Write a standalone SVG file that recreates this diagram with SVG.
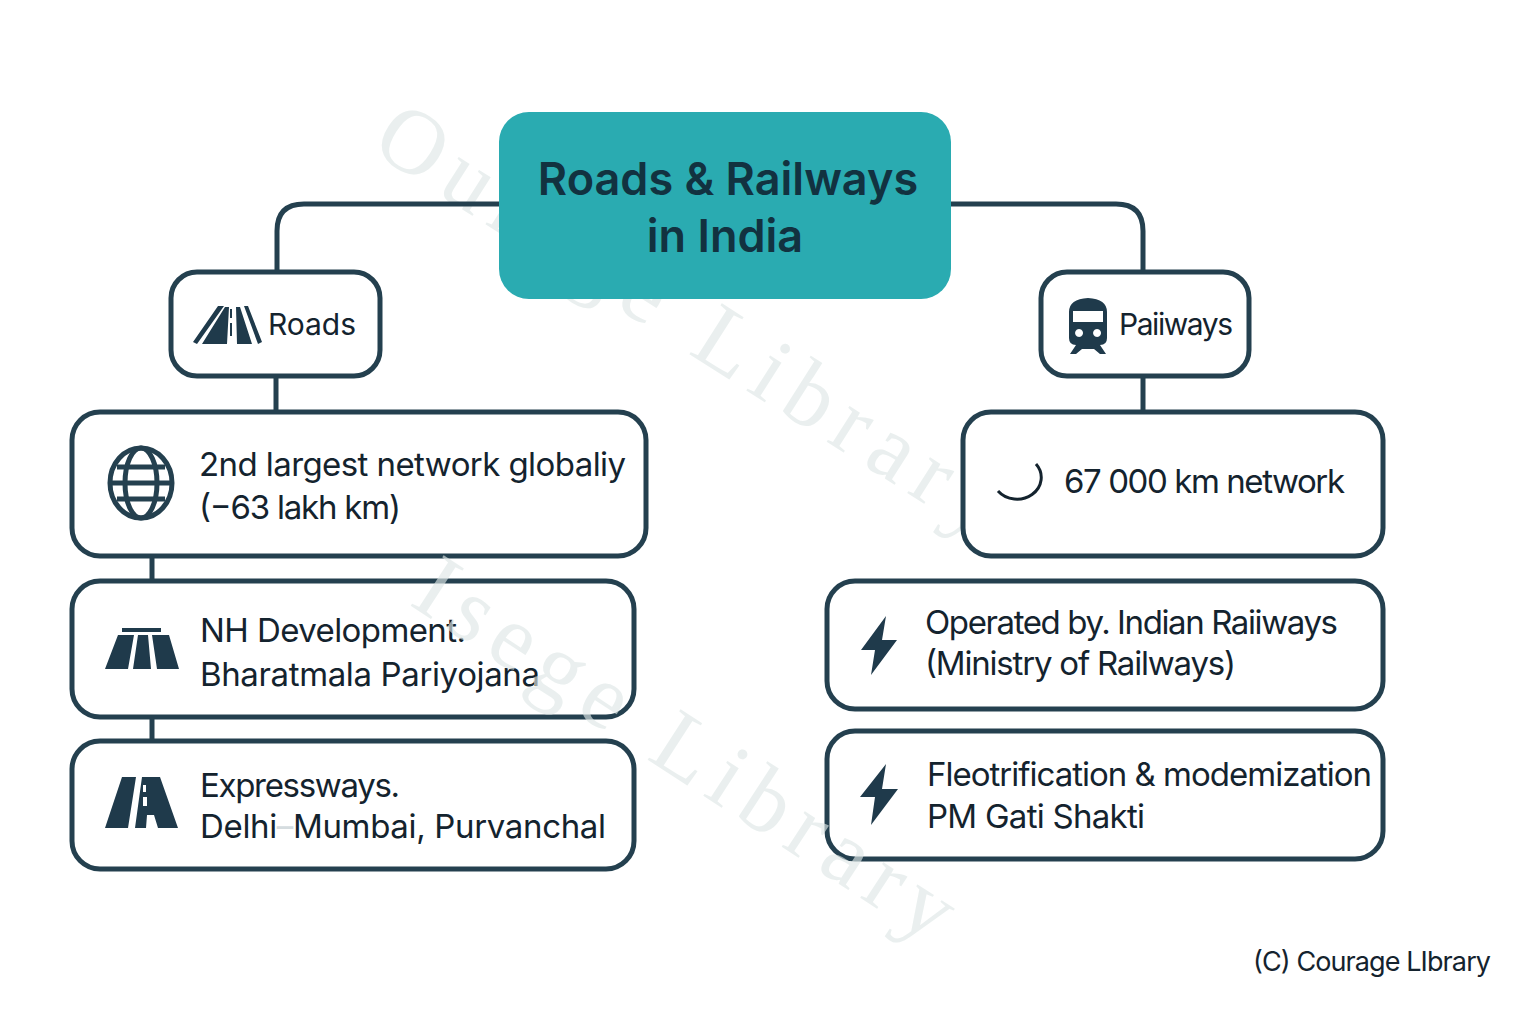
<svg xmlns="http://www.w3.org/2000/svg" width="1536" height="1024" viewBox="0 0 1536 1024">
<style>
.box{fill:#fff;stroke:#24404f;stroke-width:5}
.con{fill:none;stroke:#24404f;stroke-width:5}
.ic{fill:#1f3a4b}
.t{font-family:Inter,"Liberation Sans",sans-serif;font-size:33px;fill:#14232e}
.s{font-size:30px}
.title{font-family:Inter,"Liberation Sans",sans-serif;font-size:45px;font-weight:600;fill:#123240;text-anchor:middle}
.wm{font-family:"Liberation Serif",serif;font-size:92px;fill:#dfe8e7;opacity:.65}
</style>
<rect width="1536" height="1024" fill="#fff"/>
<text class="wm" transform="translate(369,150) rotate(32.5)" textLength="725">Ourage Library</text>
<g id="connectors">
<path class="con" d="M500 204H304Q277 204 277 231V272"/>
<path class="con" d="M950 204H1116Q1143 204 1143 231V272"/>
<path class="con" d="M276 376V412M1143 376V412M152 556V581M152 717V741"/>
</g>
<g id="center"><rect x="499" y="112" width="452" height="187" rx="30" fill="#2aabb1"/>
<text class="title" x="728" y="195">Roads &amp; Railways</text><text class="title" x="725" y="252">in India</text></g>
<g id="roads"><rect class="box" x="171" y="272" width="209" height="104" rx="26"/>
<path class="ic" d="M193 342L218 306H224L197 344ZM202 344L225 307H229L227 344ZM236 307H240L252 344H237ZM244 306H248L262 342L258 344Z"/>
<path d="M231 309V318M231 323V336" stroke="#1f3a4b" stroke-width="2" fill="none"/>
<text class="t s" x="268" y="335" textLength="88">Roads</text></g>
<g id="railways"><rect class="box" x="1041" y="272" width="208" height="104" rx="26"/>
<path class="ic" fill-rule="evenodd" d="M1069 312Q1069 299 1088 298Q1107 299 1107 312V338Q1107 345 1100 345L1106 354H1100L1094 349H1082L1076 354H1070L1076 345Q1069 345 1069 338ZM1073 311V322H1103V311ZM1079 329a4 4 0 1 0 .1 0ZM1097 329a4 4 0 1 0 .1 0Z"/>
<text class="t s" x="1119" y="335" textLength="114">Paiiways</text></g>
<g id="r1"><rect class="box" x="72" y="412" width="574" height="144" rx="28"/>
<g fill="none" stroke="#24404f" stroke-width="5"><ellipse cx="141" cy="483" rx="31" ry="35"/><ellipse cx="141" cy="483" rx="16" ry="35"/><path d="M117 467H165M110 483H172M117 499H165"/></g>
<text class="t" x="199" y="476" textLength="427">2nd largest network globaliy</text><text class="t" x="199" y="519" textLength="202">(−63 lakh km)</text></g>
<g id="r2"><rect class="box" x="72" y="581" width="562" height="136" rx="28"/>
<path class="ic" d="M122 628H161V632H122ZM118 635H134L128 669H105ZM138 635H148L151 669H133ZM152 635H169L179 669H157Z"/>
<text class="t" x="200" y="642" textLength="266">NH Development.</text><text class="t" x="200" y="686" textLength="340">Bharatmala Pariyojana</text></g>
<g id="r3"><rect class="box" x="72" y="741" width="562" height="128" rx="28"/>
<path class="ic" d="M122 777H136L128 828H105ZM142 777H160L178 828H158L154 815H147L146 828H135ZM143 785V792H146V785ZM143 797V806H147V797Z" fill-rule="evenodd"/>
<text class="t" x="200" y="797" textLength="200">Expressways.</text><text class="t" x="200" y="838" textLength="406">Delhi<tspan fill="#d5dcdf">–</tspan>Mumbai, Purvanchal</text></g>
<g id="l1"><rect class="box" x="963" y="412" width="420" height="144" rx="28"/>
<path d="M1036 464A19 17 0 0 1 998 491" fill="none" stroke="#14232e" stroke-width="3"/>
<text class="t" x="1064" y="493" textLength="281">67 000 km network</text></g>
<g id="l2"><rect class="box" x="827" y="581" width="556" height="128" rx="28"/>
<path class="ic" d="M886 616L861 650H875L871 675L897 640H882Z"/>
<text class="t" x="925" y="634" textLength="413">Operated by. Indian Raiiways</text><text class="t" x="925" y="675" textLength="311">(Ministry of Railways)</text></g>
<g id="l3"><rect class="box" x="827" y="731" width="556" height="128" rx="28"/>
<path class="ic" d="M886 764L860 797H875L871 825L898 789H882Z"/>
<text class="t" x="927" y="786" textLength="445">Fleotrification &amp; modemization</text><text class="t" x="927" y="828" textLength="218">PM Gati Shakti</text></g>
<text class="wm" transform="translate(408,604) rotate(33)" textLength="625">Isege Library</text>
<text class="t" x="1253" y="971" style="font-size:27px" textLength="238">(C) Courage LIbrary</text>
</svg>
